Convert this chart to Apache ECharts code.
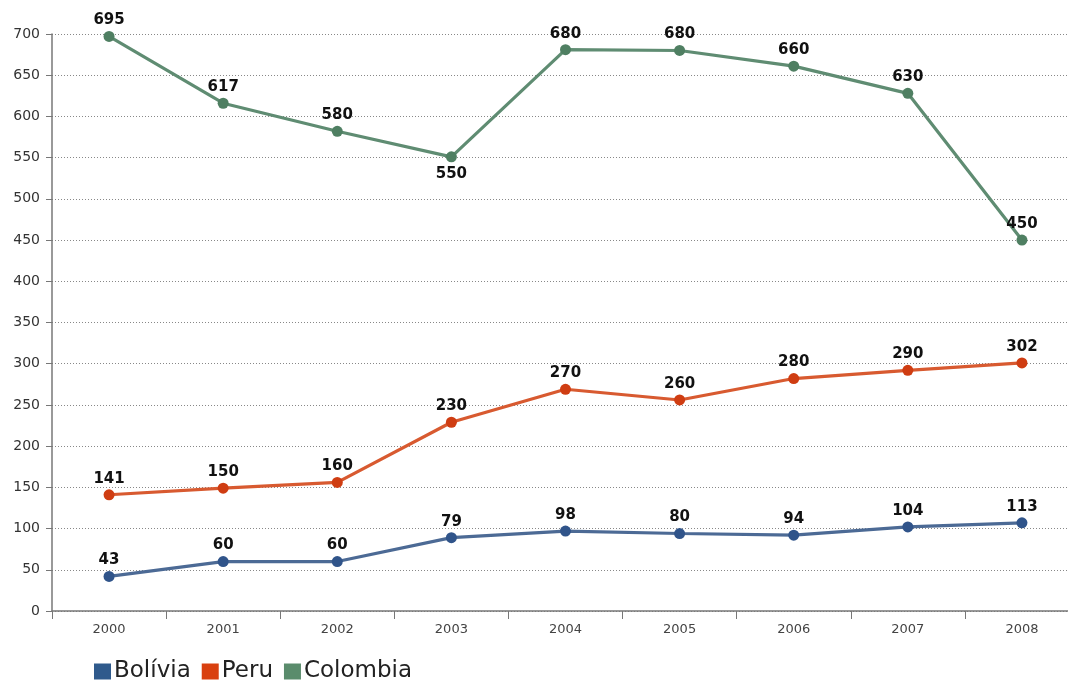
<!DOCTYPE html>
<html>
<head>
<meta charset="utf-8">
<script src="https://cdn.jsdelivr.net/npm/echarts@6/dist/echarts.min.js"></script>
<style>html,body{margin:0;padding:0;background:#fff}#c{width:1068px;height:681px}</style>
</head>
<body>
<div id="c"></div>
<script>
var years = ['2000','2001','2002','2003','2004','2005','2006','2007','2008'];
var seriesNames = ['Bolívia','Peru','Colombia'];
// plotted positions
var boliviaValues = [42, 60, 60, 89, 97, 94, 92, 102, 107];
var peruValues = [141, 149, 156, 229, 269, 256, 282, 292, 301];
var colombiaValues = [697, 616, 582, 551, 681, 680, 661, 628, 450];
// printed labels
var boliviaLabels = ['43','60','60','79','98','80','94','104','113'];
var peruLabels = ['141','150','160','230','270','260','280','290','302'];
var colombiaLabels = ['695','617','580','550','680','680','660','630','450'];
var yMin = 0, yMax = 700, yStep = 50;

var lineColors = ['#4c6a95', '#d85a30', '#5f8c72'];
var markColors = ['#30548a', '#cf3d12', '#4f7f62'];
var legendColors = ['#2f5a8c', '#d9400f', '#5a8c6c'];

function mkSeries(i, values, labels, belowIdx) {
  return {
    name: seriesNames[i],
    type: 'line',
    data: values.map(function (v, k) {
      var d = { value: v };
      if (belowIdx.indexOf(k) >= 0) d.label = { position: 'bottom', distance: 4 };
      return d;
    }),
    symbol: 'circle',
    symbolSize: 11,
    lineStyle: { color: lineColors[i], width: 3.2 },
    itemStyle: { color: markColors[i] },
    color: legendColors[i],
    label: {
      show: true,
      position: 'top',
      distance: 3,
      fontFamily: 'DejaVu Sans',
      fontWeight: 'bold',
      fontSize: 15,
      color: '#111',
      formatter: function (p) { return labels[p.dataIndex]; }
    },
    emphasis: { disabled: true },
    animation: false
  };
}

var chart = echarts.init(document.getElementById('c'), null, { renderer: 'canvas' });
chart.setOption({
  backgroundColor: '#fff',
  animation: false,
  grid: { left: 52, top: 34, width: 1027, height: 577, containLabel: false, outerBoundsMode: 'none' },
  legend: {
    left: 94, top: 660, padding: 0,
    itemWidth: 17, itemHeight: 16, itemGap: 11,
    icon: 'rect',
    data: seriesNames.map(function (n, i) { return { name: n, itemStyle: { color: legendColors[i] } }; }),
    textStyle: { fontFamily: 'DejaVu Sans', fontSize: 23, color: '#222', padding: [0, 0, 0, -2] }
  },
  xAxis: {
    type: 'category',
    data: years,
    boundaryGap: true,
    axisLine: { lineStyle: { color: '#777', width: 1.5 } },
    axisTick: { show: true, length: 8, alignWithLabel: false, lineStyle: { color: '#777' } },
    axisLabel: { fontFamily: 'DejaVu Sans', fontSize: 13, color: '#444', margin: 12 },
    splitLine: { show: false }
  },
  yAxis: {
    type: 'value',
    min: yMin, max: yMax, interval: yStep,
    axisLine: { show: true, lineStyle: { color: '#777', width: 1.5 } },
    axisTick: { show: true, length: 6, lineStyle: { color: '#777' } },
    axisLabel: { fontFamily: 'DejaVu Sans', fontSize: 14, color: '#333', margin: 12 },
    splitLine: { show: true, lineStyle: { color: '#888', type: [1, 2], width: 1 } }
  },
  series: [
    mkSeries(0, boliviaValues, boliviaLabels, []),
    mkSeries(1, peruValues, peruLabels, []),
    mkSeries(2, colombiaValues, colombiaLabels, [3])
  ]
});
</script>
</body>
</html>
